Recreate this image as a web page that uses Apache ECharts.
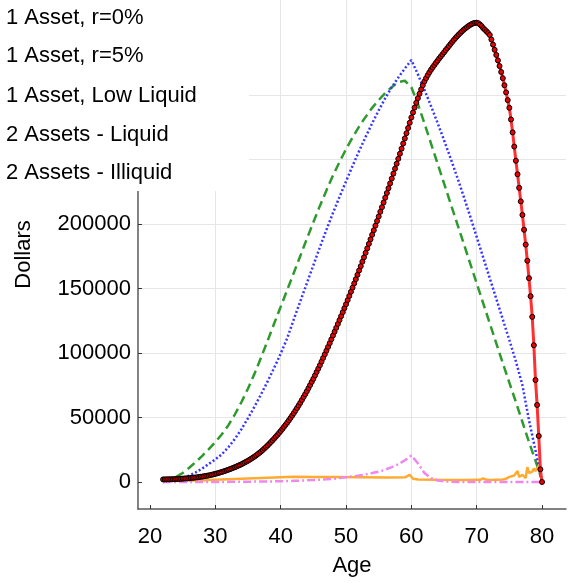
<!DOCTYPE html>
<html>
<head>
<meta charset="utf-8">
<script src="https://cdn.jsdelivr.net/npm/echarts@6/dist/echarts.min.js"></script>
<style>
  html, body { margin: 0; padding: 0; background: #fff; }
  #chart { width: 569px; height: 583px; }
</style>
</head>
<body>
<div id="chart"></div>
<script>
// Legend labels, in series order
const seriesNames = ['1 Asset, r=0%', '1 Asset, r=5%', '1 Asset, Low Liquid', '2 Assets - Liquid', '2 Assets - Illiquid'];

// Tick values
const xTicks = [20, 30, 40, 50, 60, 70, 80];
const yTicks = [0, 50000, 100000, 150000, 200000, 250000, 300000, 350000];

// Annual ages 22..80
const annualAges = [22, 23, 24, 25, 26, 27, 28, 29, 30, 31, 32, 33, 34, 35, 36, 37, 38, 39, 40,
  41, 42, 43, 44, 45, 46, 47, 48, 49, 50, 51, 52, 53, 54, 55, 56, 57, 58, 59, 60,
  61, 62, 63, 64, 65, 66, 67, 68, 69, 70, 71, 72, 73, 74, 75, 76, 77, 78, 79, 80];

// 1 Asset, r=0% (annual)
const assetR0 = [0, 1500, 4000, 7000, 11000, 15500, 20300, 25500, 31000, 37000, 44000, 52500, 62000, 72500,
  84000, 96500, 109500, 122800, 135800, 148900, 162000, 175200, 188400, 201400, 214000, 226000, 237500,
  248000, 258000, 267000, 275500, 283000, 290000, 296000, 301500, 306000, 310000, 311000, 306000, 293000,
  278000, 262500, 247000, 231500, 216000, 200500, 185000, 169500, 154000, 138500, 123000, 107500, 92000,
  77000, 62000, 46500, 31000, 16500, 1000];

// 1 Asset, r=5% (annual)
const assetR5 = [0, 500, 1500, 3000, 5000, 7500, 10500, 14000, 17500, 21500, 27000, 33500, 41000, 49500,
  58500, 68000, 78000, 88500, 99500, 111500, 126000, 140000, 154000, 168000, 182000, 195500, 208500,
  221000, 233000, 245000, 256500, 267500, 278000, 288000, 297500, 306000, 313500, 320500, 327000, 316000,
  304000, 291500, 278500, 265000, 251000, 236500, 221500, 206000, 190000, 174000, 158000, 142000, 126000,
  110000, 93500, 75000, 48000, 24500, 0];

// 1 Asset, Low Liquid (quarterly, ages 22 to 80)
const lowLiquid = [
  2000, 2020, 2040, 2070, 2100, 2140, 2190, 2240, 2300, 2370, 2440, 2520,
  2600, 2690, 2790, 2890, 3000, 3120, 3240, 3370, 3500, 3660, 3830, 4010,
  4200, 4420, 4640, 4870, 5100, 5390, 5680, 5990, 6300, 6660, 7030, 7410,
  7800, 8220, 8640, 9070, 9500, 9990, 10480, 10990, 11500, 12060, 12630, 13210,
  13800, 14460, 15130, 15810, 16500, 17280, 18070, 18880, 19700, 20650, 21620, 22600,
  23600, 24750, 25910, 27100, 28300, 29600, 30920, 32250, 33600, 35050, 36510, 38000,
  39500, 41100, 42720, 44350, 46000, 47780, 49580, 51430, 53300, 55280, 57290, 59340,
  61400, 63590, 65800, 68040, 70300, 72690, 75100, 77540, 80000, 82600, 85220, 87850,
  90500, 93300, 96130, 98960, 101800, 104700, 107620, 110550, 113500, 116480, 119480, 122490,
  125500, 128560, 131630, 134710, 137800, 140980, 144170, 147380, 150600, 153900, 157220, 160550,
  163900, 167300, 170720, 174150, 177600, 181080, 184580, 188090, 191600, 195130, 198670, 202230,
  205800, 209400, 213010, 216650, 220300, 224000, 227720, 231450, 235200, 239000, 242820, 246660,
  250500, 254420, 258360, 262320, 266300, 270330, 274380, 278440, 282500, 286400, 290200, 293900,
  297500, 300900, 304300, 307500, 310500, 313000, 315300, 317500, 319500, 321300, 323100, 324800,
  326500, 328200, 329800, 331400, 333000, 334700, 336300, 337900, 339500, 341100, 342600, 344100,
  345500, 346800, 348100, 349300, 350500, 351500, 352500, 353500, 354300, 355000, 355600, 355900,
  356000, 355600, 354600, 353400, 351800, 350600, 349300, 348000, 346500, 343000, 339000, 335000,
  331000, 326800, 322400, 317800, 313000, 307500, 302000, 296000, 290000, 281000, 271000, 260000,
  249000, 238500, 228000, 217500, 207000, 195500, 184000, 171500, 158000, 144000, 128000, 106000,
  79000, 59700, 35700, 9800, 0];

// 2 Assets - Liquid: [age, value]
const twoLiquid = [
  [22, 800], [25, 900], [28, 1300], [31, 1900], [34, 2500], [37, 3100], [40, 3700], [42, 4000],
  [45, 3900], [48, 3800], [52, 3700], [56, 3500], [59, 3600], [59.75, 5600], [60.25, 2500],
  [61, 2000], [64, 1700], [68, 1600], [70.5, 1700], [71, 2900], [71.5, 1700], [72, 1500],
  [73, 1800], [74, 2000], [74.5, 2500], [75, 4000], [75.25, 2800], [75.75, 5000], [76.25, 8500],
  [76.5, 4000], [77, 5500], [77.25, 6500], [77.5, 3000], [77.75, 11500], [78, 7000], [78.25, 6500],
  [78.5, 8000], [78.75, 10500], [79, 8500], [79.25, 9500], [79.5, 12500], [79.75, 10000], [80, 9000]];

// 2 Assets - Illiquid (annual)
const twoIlliquid = [0, 0, 0, 0, 0, 0, 0, 0, 0, 0, 100, 100, 200, 200, 300, 300, 400, 500, 600,
  700, 900, 1100, 1300, 1500, 1800, 2100, 2500, 3000, 3600, 4300, 5000, 5900, 6900, 8000, 9500,
  11500, 13800, 16800, 20500, 14500, 7000, 3000, 1200, 500, 200, 0, 0, 0, 0, 0, 0, 0, 0, 0, 0, 0, 0, 0, 0];

// Quarterly sampling grid for the low-liquidity path
const quarterAges = lowLiquid.map((_, i) => 22 + i / 4);

const pair = (xs, ys) => ys.map((v, i) => [xs[i], v]);

const FONT = '"Liberation Sans", Arial, Helvetica, sans-serif';
const axisText = { fontSize: 22, color: '#000', fontFamily: FONT };

const chart = echarts.init(document.getElementById('chart'), null, { renderer: 'canvas' });

chart.setOption({
  animation: false,
  backgroundColor: '#fff',
  textStyle: { fontFamily: FONT },
  grid: { left: 138, top: 0, width: 428, height: 509, outerBoundsMode: 'none', containLabel: false },
  legend: {
    orient: 'vertical',
    left: 0,
    top: 7,
    padding: 0,
    itemWidth: 0,
    itemHeight: 22,
    itemGap: 16.3,
    selectedMode: false,
    itemStyle: { opacity: 0 },
    lineStyle: { opacity: 0 },
    textStyle: { fontSize: 22, lineHeight: 22, color: '#000', fontFamily: FONT },
    data: seriesNames.map(n => ({ name: n, icon: 'rect' })),
    z: 5
  },
  graphic: [{
    type: 'rect',
    left: 0, top: 0, z: 3,
    shape: { width: 249, height: 191 },
    style: { fill: '#fff' },
    silent: true
  }],
  xAxis: {
    type: 'value',
    min: 18.16,
    max: 83.67,
    splitNumber: 6,
    name: 'Age',
    nameLocation: 'middle',
    nameGap: 46,
    nameTextStyle: axisText,
    axisLine: { show: true, onZero: false, lineStyle: { color: '#5a5a5a', width: 1.5 } },
    axisTick: { show: true, inside: true, length: 4, customValues: xTicks, lineStyle: { color: '#333', width: 1 } },
    axisLabel: Object.assign({ margin: 17, customValues: xTicks,
      formatter: v => (Math.abs(v % 10) < 1e-6 ? String(v) : '') }, axisText),
    splitLine: { show: true, showMinLine: false, showMaxLine: false, lineStyle: { color: '#e6e6e6', width: 1 } }
  },
  yAxis: {
    type: 'value',
    min: -20930,
    max: 373600,
    splitNumber: 8,
    name: 'Dollars',
    nameLocation: 'middle',
    nameGap: 103,
    nameRotate: 90,
    nameTextStyle: axisText,
    axisLine: { show: true, onZero: false, lineStyle: { color: '#5a5a5a', width: 1.5 } },
    axisTick: { show: true, inside: true, length: 4, customValues: yTicks, lineStyle: { color: '#333', width: 1 } },
    axisLabel: Object.assign({ margin: 7, customValues: yTicks,
      formatter: v => (Math.abs(v % 50000) < 1e-6 ? String(v) : '') }, axisText),
    splitLine: { show: true, showMinLine: false, showMaxLine: false, lineStyle: { color: '#e6e6e6', width: 1 } }
  },
  series: [
    {
      name: seriesNames[0], type: 'line', showSymbol: false, symbol: 'none', z: 2,
      data: pair(annualAges, assetR0),
      lineStyle: { color: '#2e9a2e', width: 2.5, type: [9, 5] },
      itemStyle: { color: '#2e9a2e' }
    },
    {
      name: seriesNames[1], type: 'line', showSymbol: false, symbol: 'none', z: 2,
      data: pair(annualAges, assetR5),
      lineStyle: { color: '#3636ff', width: 2.5, type: [2, 2.2] },
      itemStyle: { color: '#3636ff' }
    },
    {
      name: seriesNames[3], type: 'line', showSymbol: false, symbol: 'none', z: 2,
      data: twoLiquid,
      lineStyle: { color: '#ffaa30', width: 2.5 },
      itemStyle: { color: '#ffaa30' }
    },
    {
      name: seriesNames[4], type: 'line', showSymbol: false, symbol: 'none', z: 2,
      data: pair(annualAges, twoIlliquid),
      lineStyle: { color: '#ee88ee', width: 2.5, type: [8, 3, 2, 3] },
      itemStyle: { color: '#ee88ee' }
    },
    {
      name: seriesNames[2], type: 'line', symbol: 'circle', symbolSize: 5, showSymbol: true, z: 4,
      data: pair(quarterAges, lowLiquid),
      lineStyle: { color: '#ff3030', width: 3 },
      itemStyle: { color: '#ee0000', borderColor: '#000', borderWidth: 1 }
    }
  ]
});
</script>
</body>
</html>
